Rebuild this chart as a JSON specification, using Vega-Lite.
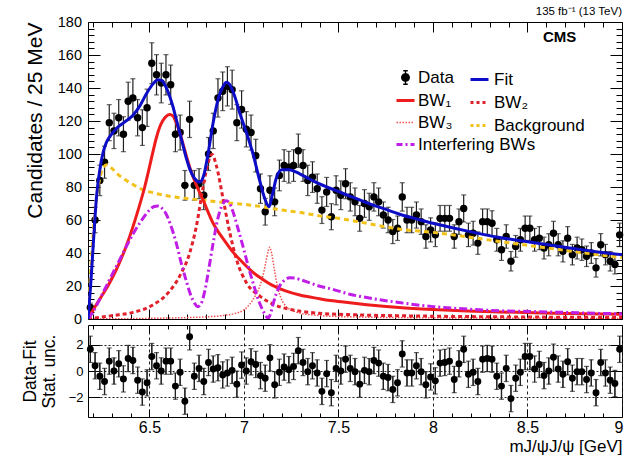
{
  "$schema": "https://vega.github.io/schema/vega-lite/v6.json",
  "background": "white",
  "padding": {"left": 20, "top": 5, "right": 0, "bottom": 0},
  "config": {
    "font": "Liberation Sans",
    "view": {"stroke": "black", "strokeWidth": 1},
    "axis": {"domain": false, "grid": false, "tickColor": "black", "labelColor": "black", "titleColor": "black", "labelFont": "Liberation Sans", "titleFont": "Liberation Sans", "titleFontWeight": "normal", "labelOverlap": false, "labelFlush": false},
    "legend": {"orient": "none", "direction": "vertical", "title": null, "labelFont": "Liberation Sans", "labelFontSize": 17, "labelColor": "black", "labelOffset": 4, "labelLimit": 300, "symbolSize": 324, "symbolType": "stroke", "symbolStrokeWidth": 3, "rowPadding": 4, "padding": 0},
    "title": {"font": "Liberation Sans", "fontWeight": "normal", "color": "black"}
  },
  "spacing": 6,
  "bounds": "flush",
  "datasets": {
    "bins": [
      {"m":6.1875,"n":7,"lo":4.4,"hi":9.6,"r":1.65,"rlo":0.65,"rhi":2.65},
      {"m":6.2125,"n":60,"lo":52.3,"hi":67.7,"r":0.4,"rlo":-0.6,"rhi":1.4},
      {"m":6.2375,"n":84,"lo":74.8,"hi":93.2,"r":-0.4,"rlo":-1.4,"rhi":0.6},
      {"m":6.2625,"n":95,"lo":85.3,"hi":104.7,"r":-0.8,"rlo":-1.8,"rhi":0.2},
      {"m":6.2875,"n":119,"lo":108.1,"hi":129.9,"r":0.75,"rlo":-0.25,"rhi":1.75},
      {"m":6.3125,"n":114,"lo":103.3,"hi":124.7,"r":0,"rlo":-1,"rhi":1},
      {"m":6.3375,"n":122,"lo":111,"hi":133,"r":0.55,"rlo":-0.45,"rhi":1.55},
      {"m":6.3625,"n":112,"lo":101.4,"hi":122.6,"r":-0.6,"rlo":-1.6,"rhi":0.4},
      {"m":6.3875,"n":132,"lo":120.5,"hi":143.5,"r":0.95,"rlo":-0.05,"rhi":1.95},
      {"m":6.4125,"n":134,"lo":122.4,"hi":145.6,"r":0.8,"rlo":-0.2,"rhi":1.8},
      {"m":6.4375,"n":122,"lo":111,"hi":133,"r":-0.7,"rlo":-1.7,"rhi":0.3},
      {"m":6.4625,"n":116,"lo":105.2,"hi":126.8,"r":-1.6,"rlo":-2.6,"rhi":-0.6},
      {"m":6.4875,"n":128,"lo":116.7,"hi":139.3,"r":-0.9,"rlo":-1.9,"rhi":0.1},
      {"m":6.5125,"n":155,"lo":142.6,"hi":167.4,"r":1.1,"rlo":0.1,"rhi":2.1},
      {"m":6.5375,"n":148,"lo":135.8,"hi":160.2,"r":0.4,"rlo":-0.6,"rhi":1.4},
      {"m":6.5625,"n":143,"lo":131,"hi":155,"r":0,"rlo":-1,"rhi":1},
      {"m":6.5875,"n":148,"lo":135.8,"hi":160.2,"r":0.75,"rlo":-0.25,"rhi":1.75},
      {"m":6.6125,"n":142,"lo":130.1,"hi":153.9,"r":0.75,"rlo":-0.25,"rhi":1.75},
      {"m":6.6375,"n":112,"lo":101.4,"hi":122.6,"r":-1.15,"rlo":-2.15,"rhi":-0.15},
      {"m":6.6625,"n":113,"lo":102.4,"hi":123.6,"r":-0.1,"rlo":-1.1,"rhi":0.9},
      {"m":6.6875,"n":81,"lo":72,"hi":90,"r":-2.3,"rlo":-3.3,"rhi":-1.3},
      {"m":6.7125,"n":121,"lo":110,"hi":132,"r":2.6,"rlo":1.6,"rhi":3.6},
      {"m":6.7375,"n":81,"lo":72,"hi":90,"r":-0.4,"rlo":-1.4,"rhi":0.6},
      {"m":6.7625,"n":82,"lo":72.9,"hi":91.1,"r":0.2,"rlo":-0.8,"rhi":1.2},
      {"m":6.7875,"n":75,"lo":66.3,"hi":83.7,"r":-0.8,"rlo":-1.8,"rhi":0.2},
      {"m":6.8125,"n":100,"lo":90,"hi":110,"r":0.65,"rlo":-0.35,"rhi":1.65},
      {"m":6.8375,"n":114,"lo":103.3,"hi":124.7,"r":0.15,"rlo":-0.85,"rhi":1.15},
      {"m":6.8625,"n":134,"lo":122.4,"hi":145.6,"r":0.25,"rlo":-0.75,"rhi":1.25},
      {"m":6.8875,"n":138,"lo":126.3,"hi":149.7,"r":-0.3,"rlo":-1.3,"rhi":0.7},
      {"m":6.9125,"n":141,"lo":129.1,"hi":152.9,"r":-0.15,"rlo":-1.15,"rhi":0.85},
      {"m":6.9375,"n":139,"lo":127.2,"hi":150.8,"r":0.05,"rlo":-0.95,"rhi":1.05},
      {"m":6.9625,"n":119,"lo":108.1,"hi":129.9,"r":-1.0,"rlo":-2.0,"rhi":0},
      {"m":6.9875,"n":127,"lo":115.7,"hi":138.3,"r":0.45,"rlo":-0.55,"rhi":1.45},
      {"m":7.0125,"n":115,"lo":104.3,"hi":125.7,"r":0,"rlo":-1,"rhi":1},
      {"m":7.0375,"n":113,"lo":102.4,"hi":123.6,"r":0.7,"rlo":-0.3,"rhi":1.7},
      {"m":7.0625,"n":99,"lo":89.1,"hi":108.9,"r":0.5,"rlo":-0.5,"rhi":1.5},
      {"m":7.0875,"n":79,"lo":70.1,"hi":87.9,"r":-0.35,"rlo":-1.35,"rhi":0.65},
      {"m":7.1125,"n":65,"lo":56.9,"hi":73.1,"r":-0.55,"rlo":-1.55,"rhi":0.45},
      {"m":7.1375,"n":78,"lo":69.2,"hi":86.8,"r":1.0,"rlo":0,"rhi":2},
      {"m":7.1625,"n":71,"lo":62.6,"hi":79.4,"r":-1.05,"rlo":-2.05,"rhi":-0.05},
      {"m":7.1875,"n":87,"lo":77.7,"hi":96.3,"r":-0.1,"rlo":-1.1,"rhi":0.9},
      {"m":7.2125,"n":93,"lo":83.4,"hi":102.6,"r":0.3,"rlo":-0.7,"rhi":1.3},
      {"m":7.2375,"n":92,"lo":82.4,"hi":101.6,"r":0.1,"rlo":-0.9,"rhi":1.1},
      {"m":7.2625,"n":93,"lo":83.4,"hi":102.6,"r":0.35,"rlo":-0.65,"rhi":1.35},
      {"m":7.2875,"n":102,"lo":91.9,"hi":112.1,"r":1.55,"rlo":0.55,"rhi":2.55},
      {"m":7.3125,"n":93,"lo":83.4,"hi":102.6,"r":0.65,"rlo":-0.35,"rhi":1.65},
      {"m":7.3375,"n":84,"lo":74.8,"hi":93.2,"r":-0.05,"rlo":-1.05,"rhi":0.95},
      {"m":7.3625,"n":86,"lo":76.7,"hi":95.3,"r":0.4,"rlo":-0.6,"rhi":1.4},
      {"m":7.3875,"n":79,"lo":70.1,"hi":87.9,"r":-0.15,"rlo":-1.15,"rhi":0.85},
      {"m":7.4125,"n":66,"lo":57.9,"hi":74.1,"r":-1.55,"rlo":-2.55,"rhi":-0.55},
      {"m":7.4375,"n":77,"lo":68.2,"hi":85.8,"r":-0.2,"rlo":-1.2,"rhi":0.8},
      {"m":7.4625,"n":62,"lo":54.1,"hi":69.9,"r":-1.65,"rlo":-2.65,"rhi":-0.65},
      {"m":7.4875,"n":78,"lo":69.2,"hi":86.8,"r":0.2,"rlo":-0.8,"rhi":1.2},
      {"m":7.5125,"n":75,"lo":66.3,"hi":83.7,"r":0,"rlo":-1,"rhi":1},
      {"m":7.5375,"n":82,"lo":72.9,"hi":91.1,"r":0.9,"rlo":-0.1,"rhi":1.9},
      {"m":7.5625,"n":74,"lo":65.4,"hi":82.6,"r":0.2,"rlo":-0.8,"rhi":1.2},
      {"m":7.5875,"n":71,"lo":62.6,"hi":79.4,"r":-0.05,"rlo":-1.05,"rhi":0.95},
      {"m":7.6125,"n":61,"lo":53.2,"hi":68.8,"r":-1.0,"rlo":-2.0,"rhi":0},
      {"m":7.6375,"n":70,"lo":61.6,"hi":78.4,"r":0.05,"rlo":-0.95,"rhi":1.05},
      {"m":7.6625,"n":68,"lo":59.8,"hi":76.2,"r":-0.05,"rlo":-1.05,"rhi":0.95},
      {"m":7.6875,"n":74,"lo":65.4,"hi":82.6,"r":0.8,"rlo":-0.2,"rhi":1.8},
      {"m":7.7125,"n":71,"lo":62.6,"hi":79.4,"r":0.6,"rlo":-0.4,"rhi":1.6},
      {"m":7.7375,"n":63,"lo":55.1,"hi":70.9,"r":-0.4,"rlo":-1.4,"rhi":0.6},
      {"m":7.7625,"n":60,"lo":52.3,"hi":67.7,"r":-0.5,"rlo":-1.5,"rhi":0.5},
      {"m":7.7875,"n":53,"lo":45.7,"hi":60.3,"r":-1.4,"rlo":-2.4,"rhi":-0.4},
      {"m":7.8125,"n":55,"lo":47.6,"hi":62.4,"r":-0.9,"rlo":-1.9,"rhi":0.1},
      {"m":7.8375,"n":74,"lo":65.4,"hi":82.6,"r":1.3,"rlo":0.3,"rhi":2.3},
      {"m":7.8625,"n":60,"lo":52.3,"hi":67.7,"r":-0.15,"rlo":-1.15,"rhi":0.85},
      {"m":7.8875,"n":60,"lo":52.3,"hi":67.7,"r":-0.15,"rlo":-1.15,"rhi":0.85},
      {"m":7.9125,"n":63,"lo":55.1,"hi":70.9,"r":0.4,"rlo":-0.6,"rhi":1.4},
      {"m":7.9375,"n":59,"lo":51.3,"hi":66.7,"r":-0.05,"rlo":-1.05,"rhi":0.95},
      {"m":7.9625,"n":50,"lo":42.9,"hi":57.1,"r":-1.05,"rlo":-2.05,"rhi":-0.05},
      {"m":7.9875,"n":54,"lo":46.7,"hi":61.3,"r":-0.45,"rlo":-1.45,"rhi":0.55},
      {"m":8.0125,"n":51,"lo":43.9,"hi":58.1,"r":-0.75,"rlo":-1.75,"rhi":0.25},
      {"m":8.0375,"n":61,"lo":53.2,"hi":68.8,"r":0.6,"rlo":-0.4,"rhi":1.6},
      {"m":8.0625,"n":61,"lo":53.2,"hi":68.8,"r":0.65,"rlo":-0.35,"rhi":1.65},
      {"m":8.0875,"n":61,"lo":53.2,"hi":68.8,"r":0.75,"rlo":-0.25,"rhi":1.75},
      {"m":8.1125,"n":50,"lo":42.9,"hi":57.1,"r":-0.65,"rlo":-1.65,"rhi":0.35},
      {"m":8.1375,"n":59,"lo":51.3,"hi":66.7,"r":0.55,"rlo":-0.45,"rhi":1.55},
      {"m":8.1625,"n":67,"lo":58.8,"hi":75.2,"r":1.65,"rlo":0.65,"rhi":2.65},
      {"m":8.1875,"n":51,"lo":43.9,"hi":58.1,"r":-0.25,"rlo":-1.25,"rhi":0.75},
      {"m":8.2125,"n":52,"lo":44.8,"hi":59.2,"r":-0.1,"rlo":-1.1,"rhi":0.9},
      {"m":8.2375,"n":46,"lo":39.2,"hi":52.8,"r":-0.8,"rlo":-1.8,"rhi":0.2},
      {"m":8.2625,"n":59,"lo":51.3,"hi":66.7,"r":0.9,"rlo":-0.1,"rhi":1.9},
      {"m":8.2875,"n":59,"lo":51.3,"hi":66.7,"r":0.95,"rlo":-0.05,"rhi":1.95},
      {"m":8.3125,"n":58,"lo":50.4,"hi":65.6,"r":0.9,"rlo":-0.1,"rhi":1.9},
      {"m":8.3375,"n":48,"lo":41.1,"hi":54.9,"r":-0.4,"rlo":-1.4,"rhi":0.6},
      {"m":8.3625,"n":42,"lo":35.5,"hi":48.5,"r":-1.15,"rlo":-2.15,"rhi":-0.15},
      {"m":8.3875,"n":50,"lo":42.9,"hi":57.1,"r":0.2,"rlo":-0.8,"rhi":1.2},
      {"m":8.4125,"n":35,"lo":29.1,"hi":40.9,"r":-2.1,"rlo":-3.1,"rhi":-1.1},
      {"m":8.4375,"n":44,"lo":37.4,"hi":50.6,"r":-0.55,"rlo":-1.55,"rhi":0.45},
      {"m":8.4625,"n":48,"lo":41.1,"hi":54.9,"r":-0.1,"rlo":-1.1,"rhi":0.9},
      {"m":8.4875,"n":55,"lo":47.6,"hi":62.4,"r":1.1,"rlo":0.1,"rhi":2.1},
      {"m":8.5125,"n":55,"lo":47.6,"hi":62.4,"r":1.1,"rlo":0.1,"rhi":2.1},
      {"m":8.5375,"n":48,"lo":41.1,"hi":54.9,"r":0.15,"rlo":-0.85,"rhi":1.15},
      {"m":8.5625,"n":49,"lo":42,"hi":56,"r":0.5,"rlo":-0.5,"rhi":1.5},
      {"m":8.5875,"n":43,"lo":36.4,"hi":49.6,"r":-0.35,"rlo":-1.35,"rhi":0.65},
      {"m":8.6125,"n":45,"lo":38.3,"hi":51.7,"r":0,"rlo":-1,"rhi":1},
      {"m":8.6375,"n":52,"lo":44.8,"hi":59.2,"r":1.05,"rlo":0.05,"rhi":2.05},
      {"m":8.6625,"n":45,"lo":38.3,"hi":51.7,"r":0.15,"rlo":-0.85,"rhi":1.15},
      {"m":8.6875,"n":41,"lo":34.6,"hi":47.4,"r":-0.25,"rlo":-1.25,"rhi":0.75},
      {"m":8.7125,"n":49,"lo":42,"hi":56,"r":0.7,"rlo":-0.3,"rhi":1.7},
      {"m":8.7375,"n":39,"lo":32.8,"hi":45.2,"r":-0.55,"rlo":-1.55,"rhi":0.45},
      {"m":8.7625,"n":43,"lo":36.4,"hi":49.6,"r":-0.05,"rlo":-1.05,"rhi":0.95},
      {"m":8.7875,"n":42,"lo":35.5,"hi":48.5,"r":-0.05,"rlo":-1.05,"rhi":0.95},
      {"m":8.8125,"n":38,"lo":31.8,"hi":44.2,"r":-0.65,"rlo":-1.65,"rhi":0.35},
      {"m":8.8375,"n":40,"lo":33.7,"hi":46.3,"r":-0.15,"rlo":-1.15,"rhi":0.85},
      {"m":8.8625,"n":31,"lo":25.4,"hi":36.6,"r":-1.65,"rlo":-2.65,"rhi":-0.65},
      {"m":8.8875,"n":45,"lo":38.3,"hi":51.7,"r":0.65,"rlo":-0.35,"rhi":1.65},
      {"m":8.9125,"n":39,"lo":32.8,"hi":45.2,"r":-0.15,"rlo":-1.15,"rhi":0.85},
      {"m":8.9375,"n":35,"lo":29.1,"hi":40.9,"r":-0.7,"rlo":-1.7,"rhi":0.3},
      {"m":8.9625,"n":33,"lo":27.3,"hi":38.7,"r":-0.95,"rlo":-1.95,"rhi":0.05},
      {"m":8.9875,"n":51,"lo":43.9,"hi":58.1,"r":1.65,"rlo":0.65,"rhi":2.65}
    ],
    "curves": [
      {"c":"Fit","m":6.175,"v":0},{"c":"Fit","m":6.19,"v":22},{"c":"Fit","m":6.2,"v":40},{"c":"Fit","m":6.21,"v":58},{"c":"Fit","m":6.22,"v":74},{"c":"Fit","m":6.237,"v":90},{"c":"Fit","m":6.255,"v":101},{"c":"Fit","m":6.272,"v":107},{"c":"Fit","m":6.3,"v":112},{"c":"Fit","m":6.325,"v":115.5},{"c":"Fit","m":6.37,"v":119.5},{"c":"Fit","m":6.413,"v":123.5},{"c":"Fit","m":6.4485,"v":129},{"c":"Fit","m":6.484,"v":136.5},{"c":"Fit","m":6.519,"v":142.5},{"c":"Fit","m":6.545,"v":145},{"c":"Fit","m":6.565,"v":144.5},{"c":"Fit","m":6.59,"v":140},{"c":"Fit","m":6.607,"v":135},{"c":"Fit","m":6.625,"v":128.5},{"c":"Fit","m":6.642,"v":121},{"c":"Fit","m":6.66,"v":113},{"c":"Fit","m":6.678,"v":105},{"c":"Fit","m":6.695,"v":97.5},{"c":"Fit","m":6.713,"v":91},{"c":"Fit","m":6.74,"v":85},{"c":"Fit","m":6.766,"v":83},{"c":"Fit","m":6.787,"v":87},{"c":"Fit","m":6.81,"v":100},{"c":"Fit","m":6.837,"v":119},{"c":"Fit","m":6.863,"v":133},{"c":"Fit","m":6.89,"v":141},{"c":"Fit","m":6.9075,"v":143.5},{"c":"Fit","m":6.925,"v":142},{"c":"Fit","m":6.951,"v":135},{"c":"Fit","m":6.9775,"v":125},{"c":"Fit","m":7.013,"v":113},{"c":"Fit","m":7.048,"v":100},{"c":"Fit","m":7.083,"v":84},{"c":"Fit","m":7.11,"v":73},{"c":"Fit","m":7.133,"v":68},{"c":"Fit","m":7.15,"v":75},{"c":"Fit","m":7.17,"v":85},{"c":"Fit","m":7.2,"v":90.5},{"c":"Fit","m":7.24,"v":90.5},{"c":"Fit","m":7.295,"v":88},{"c":"Fit","m":7.345,"v":85},{"c":"Fit","m":7.397,"v":82},{"c":"Fit","m":7.471,"v":78.5},{"c":"Fit","m":7.56,"v":74.5},{"c":"Fit","m":7.648,"v":70.5},{"c":"Fit","m":7.736,"v":67},{"c":"Fit","m":7.824,"v":63.5},{"c":"Fit","m":7.912,"v":60.7},{"c":"Fit","m":8.0,"v":58},{"c":"Fit","m":8.177,"v":53.4},{"c":"Fit","m":8.353,"v":49.4},{"c":"Fit","m":8.529,"v":46.4},{"c":"Fit","m":8.706,"v":43.3},{"c":"Fit","m":8.882,"v":40.5},{"c":"Fit","m":9.0,"v":39},
      {"c":"Background","m":6.175,"v":0},{"c":"Background","m":6.195,"v":40},{"c":"Background","m":6.215,"v":68},{"c":"Background","m":6.235,"v":84},{"c":"Background","m":6.255,"v":91.5},{"c":"Background","m":6.275,"v":93.5},{"c":"Background","m":6.3,"v":91.5},{"c":"Background","m":6.33,"v":88},{"c":"Background","m":6.37,"v":84.5},{"c":"Background","m":6.413,"v":81.5},{"c":"Background","m":6.46,"v":78.5},{"c":"Background","m":6.52,"v":76.5},{"c":"Background","m":6.6,"v":74.5},{"c":"Background","m":6.7,"v":73},{"c":"Background","m":6.8,"v":71.8},{"c":"Background","m":6.9,"v":70.5},{"c":"Background","m":7.0,"v":69.5},{"c":"Background","m":7.1,"v":68},{"c":"Background","m":7.2,"v":66},{"c":"Background","m":7.3,"v":64.5},{"c":"Background","m":7.4,"v":62.5},{"c":"Background","m":7.5,"v":61},{"c":"Background","m":7.65,"v":58},{"c":"Background","m":7.82,"v":54.5},{"c":"Background","m":8.0,"v":52.5},{"c":"Background","m":8.18,"v":49.8},{"c":"Background","m":8.35,"v":47},{"c":"Background","m":8.53,"v":44.2},{"c":"Background","m":8.7,"v":41.6},{"c":"Background","m":8.88,"v":38.9},{"c":"Background","m":9.0,"v":37.2},
      {"c":"BW\u2081","m":6.175,"v":0},{"c":"BW\u2081","m":6.2,"v":5},{"c":"BW\u2081","m":6.237,"v":12},{"c":"BW\u2081","m":6.28,"v":20},{"c":"BW\u2081","m":6.325,"v":30},{"c":"BW\u2081","m":6.37,"v":42},{"c":"BW\u2081","m":6.413,"v":56},{"c":"BW\u2081","m":6.44,"v":66},{"c":"BW\u2081","m":6.475,"v":80},{"c":"BW\u2081","m":6.5,"v":92},{"c":"BW\u2081","m":6.52,"v":102},{"c":"BW\u2081","m":6.537,"v":110},{"c":"BW\u2081","m":6.555,"v":116.5},{"c":"BW\u2081","m":6.572,"v":120.5},{"c":"BW\u2081","m":6.59,"v":123},{"c":"BW\u2081","m":6.607,"v":124},{"c":"BW\u2081","m":6.625,"v":123},{"c":"BW\u2081","m":6.645,"v":118},{"c":"BW\u2081","m":6.66,"v":113},{"c":"BW\u2081","m":6.678,"v":106},{"c":"BW\u2081","m":6.695,"v":99},{"c":"BW\u2081","m":6.713,"v":92},{"c":"BW\u2081","m":6.749,"v":81},{"c":"BW\u2081","m":6.784,"v":72},{"c":"BW\u2081","m":6.837,"v":58},{"c":"BW\u2081","m":6.9,"v":47},{"c":"BW\u2081","m":6.942,"v":40.5},{"c":"BW\u2081","m":7.0,"v":33.5},{"c":"BW\u2081","m":7.048,"v":28.2},{"c":"BW\u2081","m":7.1,"v":24},{"c":"BW\u2081","m":7.154,"v":20.2},{"c":"BW\u2081","m":7.22,"v":17},{"c":"BW\u2081","m":7.295,"v":14.5},{"c":"BW\u2081","m":7.4,"v":12.3},{"c":"BW\u2081","m":7.47,"v":11},{"c":"BW\u2081","m":7.56,"v":9.8},{"c":"BW\u2081","m":7.65,"v":8.7},{"c":"BW\u2081","m":7.82,"v":7},{"c":"BW\u2081","m":8.0,"v":5.8},{"c":"BW\u2081","m":8.18,"v":4.9},{"c":"BW\u2081","m":8.35,"v":4.3},{"c":"BW\u2081","m":8.53,"v":3.8},{"c":"BW\u2081","m":8.7,"v":3.4},{"c":"BW\u2081","m":8.88,"v":3.1},{"c":"BW\u2081","m":9.0,"v":2.9},
      {"c":"BW\u2082","m":6.175,"v":0},{"c":"BW\u2082","m":6.3,"v":2},{"c":"BW\u2082","m":6.413,"v":4},{"c":"BW\u2082","m":6.51,"v":8},{"c":"BW\u2082","m":6.6,"v":16},{"c":"BW\u2082","m":6.66,"v":26},{"c":"BW\u2082","m":6.713,"v":40},{"c":"BW\u2082","m":6.748,"v":56},{"c":"BW\u2082","m":6.784,"v":80},{"c":"BW\u2082","m":6.81,"v":94.5},{"c":"BW\u2082","m":6.831,"v":99.8},{"c":"BW\u2082","m":6.854,"v":93},{"c":"BW\u2082","m":6.89,"v":72.6},{"c":"BW\u2082","m":6.925,"v":52.4},{"c":"BW\u2082","m":6.96,"v":36.3},{"c":"BW\u2082","m":7.013,"v":22},{"c":"BW\u2082","m":7.083,"v":14},{"c":"BW\u2082","m":7.154,"v":9},{"c":"BW\u2082","m":7.26,"v":5.5},{"c":"BW\u2082","m":7.397,"v":3.5},{"c":"BW\u2082","m":7.6,"v":2.5},{"c":"BW\u2082","m":8.0,"v":1.7},{"c":"BW\u2082","m":8.5,"v":1.2},{"c":"BW\u2082","m":9.0,"v":0.9},
      {"c":"BW\u2083","m":6.175,"v":0},{"c":"BW\u2083","m":6.5,"v":0.4},{"c":"BW\u2083","m":6.8,"v":1.3},{"c":"BW\u2083","m":6.9,"v":2.3},{"c":"BW\u2083","m":6.95,"v":3.3},{"c":"BW\u2083","m":7.0,"v":5.5},{"c":"BW\u2083","m":7.031,"v":9},{"c":"BW\u2083","m":7.06,"v":14},{"c":"BW\u2083","m":7.083,"v":19.5},{"c":"BW\u2083","m":7.1,"v":26},{"c":"BW\u2083","m":7.115,"v":34},{"c":"BW\u2083","m":7.128,"v":41},{"c":"BW\u2083","m":7.136,"v":43.5},{"c":"BW\u2083","m":7.146,"v":40},{"c":"BW\u2083","m":7.163,"v":28.5},{"c":"BW\u2083","m":7.178,"v":19.5},{"c":"BW\u2083","m":7.195,"v":13},{"c":"BW\u2083","m":7.224,"v":7.5},{"c":"BW\u2083","m":7.26,"v":5},{"c":"BW\u2083","m":7.295,"v":3.6},{"c":"BW\u2083","m":7.4,"v":2.1},{"c":"BW\u2083","m":7.6,"v":1.2},{"c":"BW\u2083","m":8.0,"v":0.7},{"c":"BW\u2083","m":9.0,"v":0.3},
      {"c":"Interfering BWs","m":6.175,"v":0},{"c":"Interfering BWs","m":6.2,"v":4},{"c":"Interfering BWs","m":6.237,"v":12},{"c":"Interfering BWs","m":6.27,"v":19.5},{"c":"Interfering BWs","m":6.307,"v":28},{"c":"Interfering BWs","m":6.343,"v":36},{"c":"Interfering BWs","m":6.378,"v":44},{"c":"Interfering BWs","m":6.413,"v":51.5},{"c":"Interfering BWs","m":6.448,"v":58},{"c":"Interfering BWs","m":6.475,"v":62.5},{"c":"Interfering BWs","m":6.5,"v":66},{"c":"Interfering BWs","m":6.525,"v":68.2},{"c":"Interfering BWs","m":6.545,"v":68.5},{"c":"Interfering BWs","m":6.567,"v":67},{"c":"Interfering BWs","m":6.589,"v":63.5},{"c":"Interfering BWs","m":6.615,"v":56},{"c":"Interfering BWs","m":6.642,"v":46},{"c":"Interfering BWs","m":6.668,"v":34},{"c":"Interfering BWs","m":6.695,"v":23},{"c":"Interfering BWs","m":6.72,"v":14},{"c":"Interfering BWs","m":6.739,"v":9.5},{"c":"Interfering BWs","m":6.755,"v":7.5},{"c":"Interfering BWs","m":6.772,"v":9},{"c":"Interfering BWs","m":6.793,"v":17},{"c":"Interfering BWs","m":6.815,"v":31},{"c":"Interfering BWs","m":6.837,"v":46},{"c":"Interfering BWs","m":6.86,"v":60},{"c":"Interfering BWs","m":6.881,"v":68},{"c":"Interfering BWs","m":6.907,"v":71.6},{"c":"Interfering BWs","m":6.925,"v":70},{"c":"Interfering BWs","m":6.942,"v":65},{"c":"Interfering BWs","m":6.968,"v":55},{"c":"Interfering BWs","m":6.995,"v":44},{"c":"Interfering BWs","m":7.02,"v":33},{"c":"Interfering BWs","m":7.048,"v":22},{"c":"Interfering BWs","m":7.075,"v":12},{"c":"Interfering BWs","m":7.101,"v":5},{"c":"Interfering BWs","m":7.118,"v":1.5},{"c":"Interfering BWs","m":7.128,"v":0.5},{"c":"Interfering BWs","m":7.14,"v":3},{"c":"Interfering BWs","m":7.154,"v":9},{"c":"Interfering BWs","m":7.17,"v":15},{"c":"Interfering BWs","m":7.189,"v":20},{"c":"Interfering BWs","m":7.215,"v":23.5},{"c":"Interfering BWs","m":7.242,"v":25},{"c":"Interfering BWs","m":7.27,"v":24.8},{"c":"Interfering BWs","m":7.295,"v":24},{"c":"Interfering BWs","m":7.345,"v":22},{"c":"Interfering BWs","m":7.397,"v":20},{"c":"Interfering BWs","m":7.47,"v":18},{"c":"Interfering BWs","m":7.56,"v":15},{"c":"Interfering BWs","m":7.65,"v":13},{"c":"Interfering BWs","m":7.82,"v":10},{"c":"Interfering BWs","m":8.0,"v":7.5},{"c":"Interfering BWs","m":8.18,"v":6},{"c":"Interfering BWs","m":8.35,"v":5},{"c":"Interfering BWs","m":8.53,"v":4.5},{"c":"Interfering BWs","m":8.7,"v":4},{"c":"Interfering BWs","m":8.88,"v":3.4},{"c":"Interfering BWs","m":9.0,"v":3.2}
    ]
  },
  "vconcat": [
    {
      "width": 534,
      "height": 297,
      "title": {"text": "135 fb\u207b\u00b9 (13 TeV)", "anchor": "end", "frame": "group", "fontSize": 11.5, "offset": -3.5, "fontWeight": "normal"},
      "layer": [
        {
          "data": {"name": "bins"},
          "mark": {"type": "errorbar", "color": "#222", "thickness": 1.2, "ticks": {"size": 5, "thickness": 1.2}, "clip": true},
          "encoding": {
            "x": {"field": "m", "type": "quantitative", "scale": {"domain": [6.175, 9.0], "nice": false, "zero": false}, "axis": null},
            "y": {"field": "lo", "type": "quantitative", "scale": {"domain": [0, 180], "nice": false}, "axis": null},
            "y2": {"field": "hi"}
          }
        },
        {
          "data": {"name": "bins"},
          "mark": {"type": "point", "filled": true, "color": "black", "size": 55, "opacity": 1, "strokeWidth": 0},
          "encoding": {
            "x": {"field": "m", "type": "quantitative", "scale": {"domain": [6.175, 9.0], "nice": false, "zero": false},
              "axis": {"orient": "bottom", "values": [6.2,6.3,6.4,6.5,6.6,6.7,6.8,6.9,7.0,7.1,7.2,7.3,7.4,7.5,7.6,7.7,7.8,7.9,8.0,8.1,8.2,8.3,8.4,8.5,8.6,8.7,8.8,8.9,9.0], "labels": false, "title": null,
                "tickSize": {"condition": {"test": "abs(datum.value*2 - round(datum.value*2)) < 0.001", "value": -10}, "value": -5}}},
            "y": {"field": "n", "type": "quantitative", "scale": {"domain": [0, 180], "nice": false},
              "axis": {"orient": "left", "values": [0,4,8,12,16,20,24,28,32,36,40,44,48,52,56,60,64,68,72,76,80,84,88,92,96,100,104,108,112,116,120,124,128,132,136,140,144,148,152,156,160,164,168,172,176,180],
                "labelExpr": "datum.value % 20 === 0 ? datum.label : ''", "labelFontSize": 14.5, "labelPadding": 18.5,
                "tickSize": {"condition": {"test": "datum.value % 20 === 0", "value": -12}, "value": -6},
                "title": "Candidates / 25 MeV", "titleFontSize": 21, "titleAnchor": "end", "titlePadding": 12}}
          }
        },
        {
          "data": {"name": "curves"},
          "encoding": {
            "x": {"field": "m", "type": "quantitative", "scale": {"domain": [6.175, 9.0], "nice": false, "zero": false},
              "axis": {"orient": "top", "values": [6.2,6.3,6.4,6.5,6.6,6.7,6.8,6.9,7.0,7.1,7.2,7.3,7.4,7.5,7.6,7.7,7.8,7.9,8.0,8.1,8.2,8.3,8.4,8.5,8.6,8.7,8.8,8.9,9.0], "labels": false, "title": null,
                "tickSize": {"condition": {"test": "abs(datum.value*2 - round(datum.value*2)) < 0.001", "value": -10}, "value": -5}}},
            "y": {"field": "v", "type": "quantitative", "scale": {"domain": [0, 180], "nice": false},
              "axis": {"orient": "right", "values": [0,4,8,12,16,20,24,28,32,36,40,44,48,52,56,60,64,68,72,76,80,84,88,92,96,100,104,108,112,116,120,124,128,132,136,140,144,148,152,156,160,164,168,172,176,180], "labels": false, "title": null,
                "tickSize": {"condition": {"test": "datum.value % 20 === 0", "value": -12}, "value": -6}}}
          },
          "layer": [
            {"transform": [{"filter": "datum.c === 'Background'"}], "mark": {"type": "line", "strokeDash": [5, 4], "strokeWidth": 3, "interpolate": "monotone", "clip": true},
              "encoding": {"color": {"field": "c", "type": "nominal",
                "scale": {"domain": ["Fit", "BW\u2082", "Background"], "range": ["#0d0dc8", "#e0202a", "#f2c21a"]},
                "legend": {"legendX": 381, "legendY": 47,
                  "encode": {"symbols": {"update": {
                    "strokeDash": {"signal": "datum.value === 'Fit' ? [1,0] : [3,3]"},
                    "strokeWidth": {"value": 3}}}}}}}},
            {"transform": [{"filter": "datum.c === 'BW\u2083'"}], "mark": {"type": "line", "strokeDash": [1.5, 1.5], "strokeWidth": 1.5, "interpolate": "monotone", "clip": true},
              "encoding": {"stroke": {"field": "c", "type": "nominal",
                "scale": {"domain": ["Data", "BW\u2081", "BW\u2083", "Interfering BWs"], "range": ["black", "#ee1c1c", "#f05050", "#c01ee6"]},
                "legend": {"legendX": 309, "legendY": 47,
                  "encode": {"symbols": {"update": {
                    "shape": {"signal": "datum.value === 'Data' ? 'M0,-0.75L0,0.75M-0.25,-0.75L0.25,-0.75M-0.25,0.75L0.25,0.75M-0.42,0A0.42,0.42,0,1,1,0.42,0A0.42,0.42,0,1,1,-0.42,0Z' : 'stroke'"},
                    "fill": {"signal": "datum.value === 'Data' ? 'black' : 'transparent'"},
                    "strokeDash": {"signal": "datum.value === 'BW\u2083' ? [1.5,1.5] : datum.value === 'Interfering BWs' ? [6,3,2,3] : [1,0]"},
                    "strokeWidth": {"signal": "datum.value === 'Data' ? 1.3 : datum.value === 'BW\u2083' ? 1.5 : 3"}}}}}}}},
            {"transform": [{"filter": "datum.c === 'BW\u2082'"}], "mark": {"type": "line", "strokeDash": [4, 3], "strokeWidth": 3, "interpolate": "monotone", "clip": true},
              "encoding": {"color": {"field": "c", "type": "nominal", "scale": {"domain": ["Fit", "BW\u2082", "Background"], "range": ["#0d0dc8", "#e0202a", "#f2c21a"]}}}},
            {"transform": [{"filter": "datum.c === 'BW\u2081'"}], "mark": {"type": "line", "strokeWidth": 3, "interpolate": "monotone", "clip": true},
              "encoding": {"stroke": {"field": "c", "type": "nominal", "scale": {"domain": ["Data", "BW\u2081", "BW\u2083", "Interfering BWs"], "range": ["black", "#ee1c1c", "#f05050", "#c01ee6"]}}}},
            {"transform": [{"filter": "datum.c === 'Interfering BWs'"}], "mark": {"type": "line", "strokeDash": [8, 3, 2, 3], "strokeWidth": 3, "interpolate": "monotone", "clip": true},
              "encoding": {"stroke": {"field": "c", "type": "nominal", "scale": {"domain": ["Data", "BW\u2081", "BW\u2083", "Interfering BWs"], "range": ["black", "#ee1c1c", "#f05050", "#c01ee6"]}}}},
            {"transform": [{"filter": "datum.c === 'Fit'"}], "mark": {"type": "line", "strokeWidth": 3, "interpolate": "monotone", "clip": true},
              "encoding": {"color": {"field": "c", "type": "nominal", "scale": {"domain": ["Fit", "BW\u2082", "Background"], "range": ["#0d0dc8", "#e0202a", "#f2c21a"]}}}}
          ]
        },
        {
          "data": {"values": [{}]},
          "mark": {"type": "text", "text": "CMS", "font": "Liberation Sans", "fontWeight": "bold", "fontSize": 15, "align": "center", "baseline": "middle", "color": "black"},
          "encoding": {
            "x": {"datum": 8.67, "type": "quantitative", "axis": null},
            "y": {"datum": 171, "type": "quantitative", "axis": null}
          }
        }
      ],
      "resolve": {"axis": {"x": "independent", "y": "independent"}}
    },
    {
      "width": 534,
      "height": 92,
      "data": {"name": "bins"},
      "layer": [
        {
          "mark": {"type": "rule", "color": "#222", "strokeWidth": 1.2, "clip": true},
          "encoding": {
            "x": {"field": "m", "type": "quantitative", "scale": {"domain": [6.175, 9.0], "nice": false, "zero": false},
              "axis": {"orient": "top", "values": [6.2,6.3,6.4,6.5,6.6,6.7,6.8,6.9,7.0,7.1,7.2,7.3,7.4,7.5,7.6,7.7,7.8,7.9,8.0,8.1,8.2,8.3,8.4,8.5,8.6,8.7,8.8,8.9,9.0], "labels": false, "title": null,
                "tickSize": {"condition": {"test": "abs(datum.value*2 - round(datum.value*2)) < 0.001", "value": -8}, "value": -4}}},
            "y": {"field": "rlo", "type": "quantitative", "scale": {"domain": [-3.5, 3.5], "nice": false},
              "axis": {"orient": "right", "values": [-2, 0, 2], "labels": false, "title": null, "tickSize": -12}},
            "y2": {"field": "rhi"}
          }
        },
        {
          "mark": {"type": "errorbar", "color": "#222", "thickness": 1.2, "ticks": {"size": 5, "thickness": 1.2}, "clip": true},
          "encoding": {
            "x": {"field": "m", "type": "quantitative", "axis": null},
            "y": {"field": "rlo", "type": "quantitative", "axis": null},
            "y2": {"field": "rhi"}
          }
        },
        {
          "mark": {"type": "point", "filled": true, "color": "black", "size": 48, "opacity": 1, "strokeWidth": 0},
          "encoding": {
            "x": {"field": "m", "type": "quantitative",
              "axis": {"orient": "bottom", "values": [6.2,6.3,6.4,6.5,6.6,6.7,6.8,6.9,7.0,7.1,7.2,7.3,7.4,7.5,7.6,7.7,7.8,7.9,8.0,8.1,8.2,8.3,8.4,8.5,8.6,8.7,8.8,8.9,9.0],
                "format": "~g", "labelExpr": "abs(datum.value*2 - round(datum.value*2)) < 0.001 ? datum.label : ''",
                "labelFontSize": 16, "labelPadding": 10, "labelFlush": true, "labelFlushOffset": 1,
                "tickSize": {"condition": {"test": "abs(datum.value*2 - round(datum.value*2)) < 0.001", "value": -8}, "value": -4},
                "grid": true, "gridDash": [3, 3], "gridColor": "#222", "gridWidth": 1,
                "gridOpacity": {"condition": {"test": "abs(datum.value*2 - round(datum.value*2)) < 0.001", "value": 1}, "value": 0},
                "title": "mJ/\u03c8J/\u03c8 [GeV]", "titleFontSize": 17, "titleAnchor": "end", "titlePadding": -1}},
            "y": {"field": "r", "type": "quantitative",
              "axis": {"orient": "left", "values": [-2, 0, 2], "labelFontSize": 13, "labelPadding": 17, "tickSize": -12,
                "grid": true, "gridDash": [2, 2], "gridColor": "#222", "gridWidth": 1,
                "title": ["Data-Fit", "Stat. unc."], "titleFontSize": 17.5, "titleLineHeight": 19, "titlePadding": 10}}
          }
        }
      ],
      "resolve": {"axis": {"x": "independent", "y": "independent"}}
    }
  ]
}
